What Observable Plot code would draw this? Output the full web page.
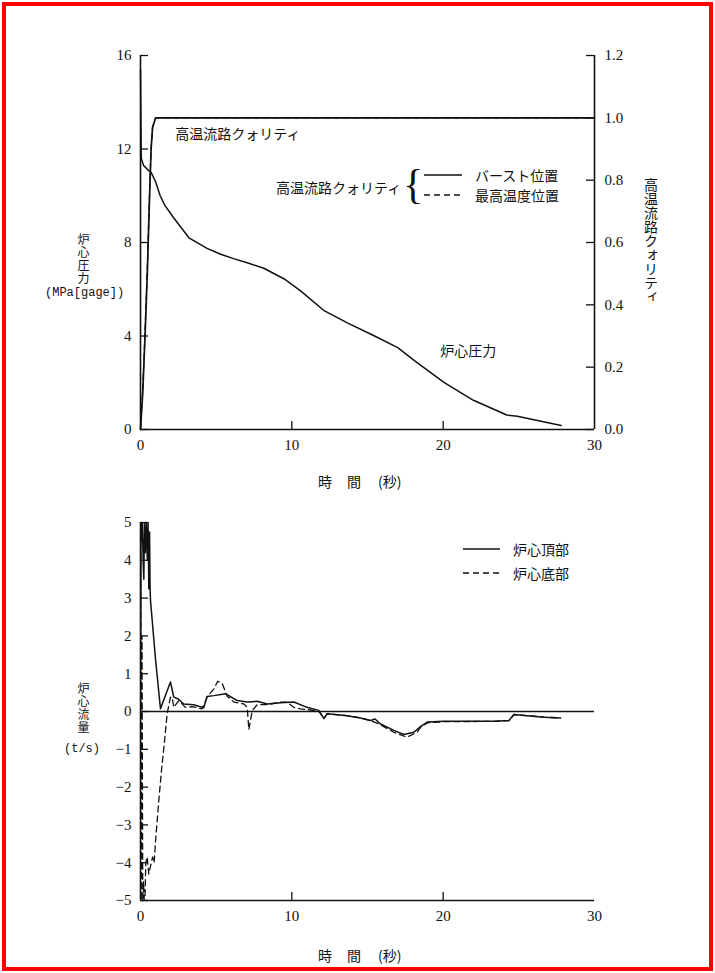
<!DOCTYPE html>
<html><head><meta charset="utf-8">
<script src="https://cdn.jsdelivr.net/npm/d3@7"></script>
<script src="https://cdn.jsdelivr.net/npm/@observablehq/plot@0.6"></script>
<style>
body{margin:0;background:#fff;}
#page{position:relative;width:715px;height:973px;overflow:hidden;background:#fff;}
#frame{position:absolute;left:2px;top:2px;width:703px;height:961px;border:4px solid #f00;pointer-events:none;}
.chart{position:absolute;left:0;}
.t{position:absolute;font-family:"Noto Sans CJK JP";font-size:14px;color:#111;white-space:nowrap;line-height:14px;}
.m{position:absolute;font-family:"Liberation Mono";font-size:12px;color:#111;white-space:nowrap;line-height:12px;}
.v{writing-mode:vertical-rl;text-orientation:upright;}
.vs{font-size:12px;line-height:13px;letter-spacing:1px;}
</style></head>
<body><div id="page"><div id="frame"></div></div>
<script>
// ---- Data: top chart (炉心圧力 MPa, 高温流路クォリティ) ----
const pressureTime  = [0, 0.05, 0.2, 0.5, 0.7, 1.0, 1.3, 1.6, 2.2, 3.2, 4.4, 5.3, 6.2, 7.05, 8.15, 9.5, 10.6, 12.1, 13.7, 15.4, 17.0, 18.1, 20.05, 22.0, 24.2, 24.9, 27.8];
const pressureValue = [15.4, 11.6, 11.3, 11.1, 11.0, 10.6, 10.0, 9.6, 9.05, 8.2, 7.75, 7.5, 7.3, 7.13, 6.9, 6.44, 5.92, 5.1, 4.55, 4.02, 3.5, 2.95, 2.02, 1.25, 0.62, 0.57, 0.17];
const qualityBurstTime  = [0, 0.15, 0.3, 0.45, 0.6, 0.7, 0.8, 1.0, 30];
const qualityBurstValue = [0, 0.12, 0.3, 0.5, 0.75, 0.9, 0.97, 1.0, 1.0];
const qualityMaxTime  = [0, 0.15, 0.3, 0.45, 0.6, 0.7, 0.8, 1.0, 30];
const qualityMaxValue = [0, 0.13, 0.31, 0.52, 0.76, 0.9, 0.97, 1.0, 1.0];
const pressureTicks = [0, 4, 8, 12, 16];
const qualityTicks = [0, 0.2, 0.4, 0.6, 0.8, 1.0, 1.2];
const timeTicks = [0, 10, 20, 30];

// ---- Data: bottom chart (炉心流量 t/s) ----
const topFlowTime  = [0, 0.03, 0.08, 0.12, 0.18, 0.22, 0.26, 0.32, 0.38, 0.45, 0.5, 0.55, 0.6, 0.63, 0.66, 1.0, 1.32, 1.98, 2.2, 2.5, 2.86, 3.52, 4.18, 4.4, 4.85, 5.62, 6.39, 7.05, 7.71, 8.37, 9.25, 10.13, 11.0, 11.78, 12.12, 12.34, 13.66, 14.54, 15.2, 15.5, 15.86, 16.74, 17.4, 18.06, 18.5, 18.95, 20.05, 23.36, 24.35, 24.68, 25.56, 26.66, 27.76];
const topFlowValue = [0, 5, 4.5, 5, 3.9, 3.5, 5, 4.2, 5, 4.0, 5, 3.25, 4.75, 3.3, 2.94, 1.35, 0.07, 0.78, 0.38, 0.33, 0.2, 0.18, 0.1, 0.4, 0.42, 0.47, 0.29, 0.25, 0.27, 0.2, 0.23, 0.25, 0.11, 0.03, -0.19, -0.06, -0.11, -0.17, -0.24, -0.2, -0.33, -0.5, -0.61, -0.55, -0.4, -0.28, -0.26, -0.26, -0.24, -0.08, -0.11, -0.15, -0.17];
const bottomFlowTime  = [0, 0.05, 0.1, 0.15, 0.2, 0.25, 0.3, 0.35, 0.44, 0.55, 0.66, 0.8, 0.9, 1.0, 1.2, 1.4, 1.55, 1.76, 1.98, 2.09, 2.2, 2.53, 2.97, 3.4, 4.07, 4.4, 4.85, 5.1, 5.4, 5.73, 6.17, 6.83, 7.05, 7.16, 7.38, 7.71, 8.37, 9.25, 9.69, 10.13, 10.57, 11.23, 11.78, 12.12, 12.34, 13.66, 14.54, 15.2, 15.86, 16.74, 17.6, 18.28, 18.5, 18.95, 20.05, 23.36, 24.35, 24.68, 25.56, 26.66, 27.76];
const bottomFlowValue = [5, -5, 2, -5, -4.5, -5, -4.9, -4.0, -3.85, -4.3, -4.1, -3.85, -4.0, -3.4, -2.4, -1.5, -0.94, -0.06, 0.38, 0.38, 0.11, 0.29, 0.11, 0.13, 0.07, 0.38, 0.6, 0.8, 0.74, 0.4, 0.25, 0.2, 0.11, -0.48, 0.02, 0.18, 0.18, 0.25, 0.25, 0.11, 0.07, 0.04, 0, -0.17, -0.06, -0.11, -0.17, -0.24, -0.35, -0.55, -0.68, -0.55, -0.42, -0.3, -0.27, -0.26, -0.24, -0.08, -0.11, -0.15, -0.17];
const flowTicks = [-5, -4, -3, -2, -1, 0, 1, 2, 3, 4, 5];

(function () {
const zip = (xs, ys) => xs.map((x, i) => ({t: x, v: ys[i]}));
const pressure = zip(pressureTime, pressureValue);
const qBurst = zip(qualityBurstTime, qualityBurstValue);
const qMax = zip(qualityMaxTime, qualityMaxValue);
const flowTop = zip(topFlowTime, topFlowValue);
const flowBottom = zip(bottomFlowTime, bottomFlowValue);

const ink = "#111";
const W = 715, ML = 140, MR = 121;
const plotW = W - ML - MR;
const qToP = 16 / 1.2;
const jp = "Noto Sans CJK JP";
const lw = 1.5;

// ---- Top chart ----
const H1 = 500, MT1 = 55, MB1 = 71, plotH1 = H1 - MT1 - MB1;
const chart1 = Plot.plot({
  width: W, height: H1, marginLeft: ML, marginRight: MR, marginTop: MT1, marginBottom: MB1,
  style: {fontFamily: "Liberation Serif", fontSize: "15px", color: ink, background: "transparent"},
  x: {domain: [0, 30]},
  y: {domain: [0, 16]},
  marks: [
    Plot.ruleX([0, 30], {stroke: ink, strokeWidth: 1.6}),
    Plot.ruleY([0], {stroke: ink, strokeWidth: 1.6}),
    Plot.tickY(pressureTicks, {y: d => d, stroke: ink, strokeWidth: 1.3, insetRight: plotW - 8}),
    Plot.tickY(qualityTicks, {y: d => d * qToP, stroke: ink, strokeWidth: 1.3, insetLeft: plotW - 8}),
    Plot.tickX([10, 20], {x: d => d, stroke: ink, strokeWidth: 1.3, insetTop: plotH1 - 8}),
    Plot.axisY({ticks: pressureTicks, tickSize: 0, tickPadding: 9, label: null}),
    Plot.axisY({anchor: "right", ticks: qualityTicks.map(q => q * qToP), tickFormat: p => (p / qToP).toFixed(1), tickSize: 0, tickPadding: 10, label: null, letterSpacing: 1.5}),
    Plot.axisX({ticks: timeTicks, tickSize: 0, tickPadding: 10, label: null}),
    Plot.line(qMax, {x: "t", y: d => d.v * qToP, stroke: ink, strokeWidth: 1.3, strokeDasharray: "6,4"}),
    Plot.line(qBurst, {x: "t", y: d => d.v * qToP, stroke: ink, strokeWidth: 1.7}),
    Plot.line(pressure, {x: "t", y: "v", stroke: ink, strokeWidth: lw}),
    Plot.text(["高温流路クォリティ"], {x: 2.3, y: 12.6, textAnchor: "start", fontFamily: jp, fontSize: 14, fill: ink}),
    Plot.text(["炉心圧力"], {x: 19.8, y: 3.33, textAnchor: "start", fontFamily: jp, fontSize: 14, fill: ink})
  ]
});
chart1.classList.add("chart"); chart1.style.top = "0px";

// ---- Bottom chart ----
const TOP2 = 490, H2 = 483, MT2 = 32, MB2 = 73, plotH2 = H2 - MT2 - MB2;
const chart2 = Plot.plot({
  width: W, height: H2, marginLeft: ML, marginRight: MR, marginTop: MT2, marginBottom: MB2,
  style: {fontFamily: "Liberation Serif", fontSize: "15px", color: ink, background: "transparent"},
  x: {domain: [0, 30]},
  y: {domain: [-5, 5]},
  marks: [
    Plot.ruleX([0], {stroke: ink, strokeWidth: 1.6}),
    Plot.ruleY([-5], {stroke: ink, strokeWidth: 1.6}),
    Plot.ruleY([0], {stroke: ink, strokeWidth: 1.3}),
    Plot.tickY(flowTicks, {y: d => d, stroke: ink, strokeWidth: 1.3, insetRight: plotW - 8}),
    Plot.tickX([10, 20], {x: d => d, stroke: ink, strokeWidth: 1.3, insetTop: plotH2 - 8}),
    Plot.axisY({ticks: flowTicks, tickSize: 0, tickPadding: 9, label: null, tickFormat: d => d < 0 ? "−" + Math.abs(d) : String(d)}),
    Plot.axisX({ticks: timeTicks, tickSize: 0, tickPadding: 10, label: null}),
    Plot.line(flowBottom, {x: "t", y: "v", stroke: ink, strokeWidth: 1.3, strokeDasharray: "6,4", clip: true}),
    Plot.line(flowTop, {x: "t", y: "v", stroke: ink, strokeWidth: lw, clip: true})
  ]
});
chart2.classList.add("chart"); chart2.style.top = TOP2 + "px";

const page = document.getElementById("page");
page.appendChild(chart1);
page.appendChild(chart2);

// ---- Text overlays (titles, legends) ----
function add(txt, cls, left, topPx, extra) {
  const d = document.createElement("div");
  d.className = cls; d.textContent = txt;
  d.style.left = left + "px"; d.style.top = topPx + "px";
  if (extra) Object.assign(d.style, extra);
  page.appendChild(d);
  return d;
}
function timeLabel(y) {
  add("時", "t", 318, y);
  add("間", "t", 347, y);
  add("(秒)", "t", 378, y);
}
add("炉心圧力", "t v vs", 77, 233);
add("(MPa[gage])", "m", 45, 287);
add("高温流路クォリティ", "t v", 644, 178);
timeLabel(474);
add("炉心流量", "t v vs", 77, 682);
add("(t/s)", "m", 64, 743);
timeLabel(948);

add("高温流路クォリティ", "t", 276, 180);
add("{", "t", 403, 163, {fontFamily: "Liberation Serif", fontSize: "42px", lineHeight: "42px"});
function legendLine(x1, x2, y, dashed) {
  const s = document.createElementNS("http://www.w3.org/2000/svg", "svg");
  s.setAttribute("width", x2 - x1 + 2); s.setAttribute("height", 6);
  s.style.position = "absolute"; s.style.left = x1 + "px"; s.style.top = (y - 3) + "px";
  const l = document.createElementNS("http://www.w3.org/2000/svg", "line");
  l.setAttribute("x1", 0); l.setAttribute("x2", x2 - x1); l.setAttribute("y1", 3); l.setAttribute("y2", 3);
  l.setAttribute("stroke", ink); l.setAttribute("stroke-width", 1.5);
  if (dashed) l.setAttribute("stroke-dasharray", "6,4");
  s.appendChild(l); page.appendChild(s);
}
legendLine(424, 462, 175, false);
legendLine(424, 462, 195, true);
add("バースト位置", "t", 475, 168);
add("最高温度位置", "t", 475, 188);

legendLine(463, 500, 549, false);
legendLine(463, 500, 573, true);
add("炉心頂部", "t", 513, 542);
add("炉心底部", "t", 513, 566);
})();
</script>
</body></html>
